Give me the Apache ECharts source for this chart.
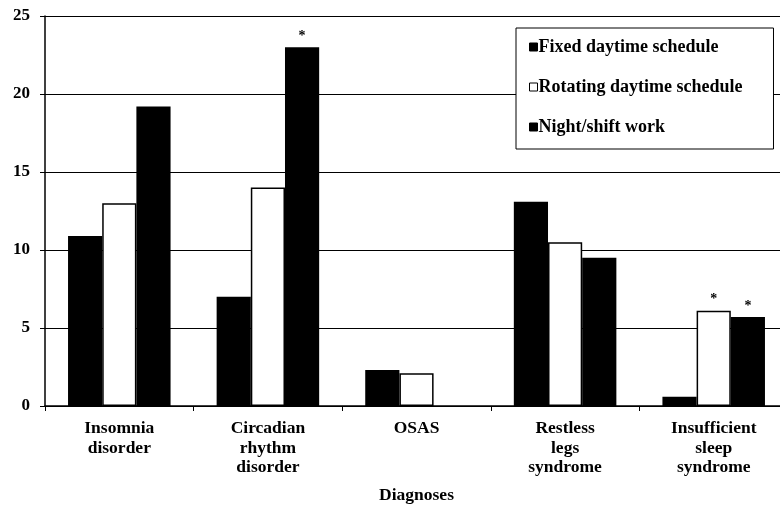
<!DOCTYPE html>
<html><head><meta charset="utf-8">
<script src="https://cdn.jsdelivr.net/npm/echarts@6/dist/echarts.min.js"></script>
<style>html,body{margin:0;padding:0;background:#fff}#c{width:780px;height:508px}</style>
</head><body><div id="c"></div>
<script>
const categories = ['Insomnia\ndisorder', 'Circadian\nrhythm\ndisorder', 'OSAS', 'Restless\nlegs\nsyndrome', 'Insufficient\nsleep\nsyndrome'];
const seriesNames = ['Fixed daytime schedule', 'Rotating daytime schedule', 'Night/shift work'];
const fixedValues = [10.9, 7.0, 2.3, 13.1, 0.6];
const rotatingValues = [13.0, 14.0, 2.1, 10.5, 6.1];
const nightValues = [19.2, 23.0, 0, 9.5, 5.7];
const fixedMarks = ['', '', '', '', ''];
const rotatingMarks = ['', '', '', '', '*'];
const nightMarks = ['', '*', '', '', '*'];
const yTicks = [0, 5, 10, 15, 20, 25];

const FONT = '"Liberation Serif", "DejaVu Serif", serif';
function mkData(vals, marks) {
  return vals.map((v, i) => ({
    value: v,
    label: marks[i] ? { show: true, formatter: marks[i], position: 'top', distance: 4, fontSize: 14, fontWeight: 'bold', color: '#000', fontFamily: FONT } : { show: false }
  }));
}
const chart = echarts.init(document.getElementById('c'), null, { renderer: 'canvas' });
chart.setOption({
  animation: false,
  backgroundColor: '#fff',
  textStyle: { fontFamily: FONT },
  grid: { left: 45, top: 16, width: 743, height: 390, containLabel: false, outerBoundsMode: 'none' },
  legend: {
    orient: 'vertical',
    left: 516, top: 28,
    padding: [10, 31, 13, 13],
    itemGap: 22,
    itemWidth: 8, itemHeight: 8,
    icon: 'rect',
    itemStyle: { borderColor: '#000', borderWidth: 1 },
    backgroundColor: '#fff',
    borderColor: '#000', borderWidth: 1,
    textStyle: { fontFamily: FONT, fontWeight: 'bold', fontSize: 18, lineHeight: 18, color: '#000', padding: [0, 0, 0, -4] },
    data: seriesNames
  },
  xAxis: {
    type: 'category',
    data: categories,
    name: 'Diagnoses',
    nameLocation: 'middle',
    nameGap: 80,
    nameTextStyle: { fontFamily: FONT, fontWeight: 'bold', fontSize: 17.5, color: '#000' },
    axisLine: { lineStyle: { color: '#000', width: 1.5 } },
    axisTick: { show: true, length: 5, lineStyle: { color: '#000', width: 1 } },
    axisLabel: { fontFamily: FONT, fontWeight: 'bold', fontSize: 17.5, color: '#000', lineHeight: 19.5, margin: 13 },
    splitLine: { show: false }
  },
  yAxis: {
    type: 'value',
    min: yTicks[0], max: yTicks[yTicks.length - 1], interval: 5,
    axisLine: { show: true, lineStyle: { color: '#000', width: 1.5 } },
    axisTick: { show: true, length: 5, lineStyle: { color: '#000' } },
    axisLabel: { fontFamily: FONT, fontWeight: 'bold', fontSize: 17, color: '#000', margin: 15 },
    splitLine: { show: true, lineStyle: { color: '#000', width: 1 } }
  },
  series: [
    { name: seriesNames[0], type: 'bar', data: mkData(fixedValues, fixedMarks), barGap: '0%', barCategoryGap: '31%',
      itemStyle: { color: '#000', borderWidth: 0 } },
    { name: seriesNames[1], type: 'bar', data: mkData(rotatingValues, rotatingMarks), barGap: '0%', barCategoryGap: '31%',
      itemStyle: { color: '#fff', borderColor: '#000', borderWidth: 1.5 } },
    { name: seriesNames[2], type: 'bar', data: mkData(nightValues, nightMarks), barGap: '0%', barCategoryGap: '31%',
      itemStyle: { color: '#000', borderWidth: 0 } }
  ]
});
</script></body></html>
